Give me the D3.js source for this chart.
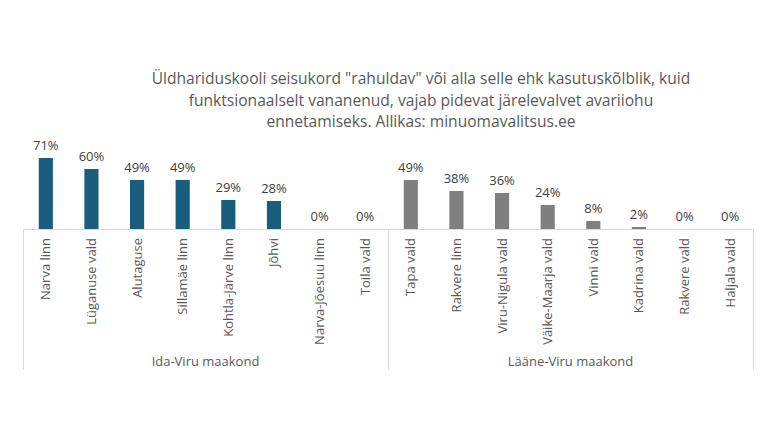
<!DOCTYPE html>
<html>
<head>
<meta charset="utf-8">
<script src="https://cdn.jsdelivr.net/npm/d3@7"></script>
<style>
  body { margin: 0; background: #fff; }
  svg { display: block; font-family: "Open Sans", sans-serif; }
</style>
</head>
<body>
<svg width="768" height="432"></svg>
<script>
// data
var idaNames = ["Narva linn", "Lüganuse vald", "Alutaguse", "Sillamäe linn", "Kohtla-Järve linn", "Jõhvi", "Narva-Jõesuu linn", "Toila vald"];
var idaValues = [71, 60, 49, 49, 29, 28, 0, 0];
var laaneNames = ["Tapa vald", "Rakvere linn", "Viru-Nigula vald", "Väike-Maarja vald", "Vinni vald", "Kadrina vald", "Rakvere vald", "Haljala vald"];
var laaneValues = [49, 38, 36, 24, 8, 2, 0, 0];
var groupNames = ["Ida-Viru maakond", "Lääne-Viru maakond"];
var titleLines = [
  "Üldhariduskooli seisukord \"rahuldav\" või alla selle ehk kasutuskõlblik, kuid",
  "funktsionaalselt vananenud, vajab pidevat järelevalvet avariiohu",
  "ennetamiseks. Allikas: minuomavalitsus.ee"
];

var svg = d3.select("svg"),
    left = 23,
    right = 753,
    baseY = 229,
    bottomY = 370;

// build one table from the arrays
var rows = [];
idaNames.forEach(function(n, i) { rows.push({ name: n, value: idaValues[i], group: 0 }); });
laaneNames.forEach(function(n, i) { rows.push({ name: n, value: laaneValues[i], group: 1 }); });

var x = d3.scaleBand()
    .domain(rows.map(function(d, i) { return i; }))
    .range([left, right])
    .paddingInner(0.69)
    .paddingOuter(0.345);

var y = d3.scaleLinear()
    .domain([0, 80])
    .range([baseY, baseY - 80]);

var colors = ["#1a5c7c", "#7f7f7f"];

// title
svg.append("g")
  .selectAll("text")
  .data(titleLines)
  .enter().append("text")
    .attr("x", 421)
    .attr("y", function(d, i) { return 84 + i * 21.5; })
    .attr("text-anchor", "middle")
    .attr("font-size", 15.6)
    .attr("fill", "#595959")
    .text(function(d) { return d; });

// bars
svg.append("g")
  .selectAll("rect")
  .data(rows)
  .enter().append("rect")
    .attr("x", function(d, i) { return x(i); })
    .attr("y", function(d) { return y(d.value); })
    .attr("width", x.bandwidth())
    .attr("height", function(d) { return baseY - y(d.value); })
    .attr("fill", function(d) { return colors[d.group]; });

// value labels
svg.append("g")
  .selectAll("text")
  .data(rows)
  .enter().append("text")
    .attr("x", function(d, i) { return x(i) + x.bandwidth() / 2; })
    .attr("y", function(d) { return y(d.value) - 8.5; })
    .attr("text-anchor", "middle")
    .attr("font-size", 13)
    .attr("fill", "#404040")
    .text(function(d) { return d.value + "%"; });

// axis lines
var axis = svg.append("g")
    .attr("stroke", "#d9d9d9")
    .attr("stroke-width", 1);
axis.append("line")
    .attr("x1", left).attr("x2", right)
    .attr("y1", baseY + 0.5).attr("y2", baseY + 0.5);
var splitX = x(8) - x.step() * x.paddingInner() / 2;
[left, splitX, right].forEach(function(px) {
  axis.append("line")
      .attr("x1", Math.round(px) + 0.5).attr("x2", Math.round(px) + 0.5)
      .attr("y1", baseY).attr("y2", bottomY);
});

// category labels, rotated
svg.append("g")
  .selectAll("text")
  .data(rows)
  .enter().append("text")
    .attr("transform", function(d, i) {
      return "translate(" + (x(i) + x.bandwidth() / 2 + 4.5) + "," + (baseY + 9) + ") rotate(-90)";
    })
    .attr("text-anchor", "end")
    .attr("font-size", 13)
    .attr("fill", "#595959")
    .text(function(d) { return d.name; });

// group labels
var groupEdges = [[left, splitX], [splitX, right]];
svg.append("g")
  .selectAll("text")
  .data(groupNames)
  .enter().append("text")
    .attr("x", function(d, i) { return (groupEdges[i][0] + groupEdges[i][1]) / 2; })
    .attr("y", 365.5)
    .attr("text-anchor", "middle")
    .attr("font-size", 13)
    .attr("fill", "#595959")
    .text(function(d) { return d; });
</script>
</body>
</html>
